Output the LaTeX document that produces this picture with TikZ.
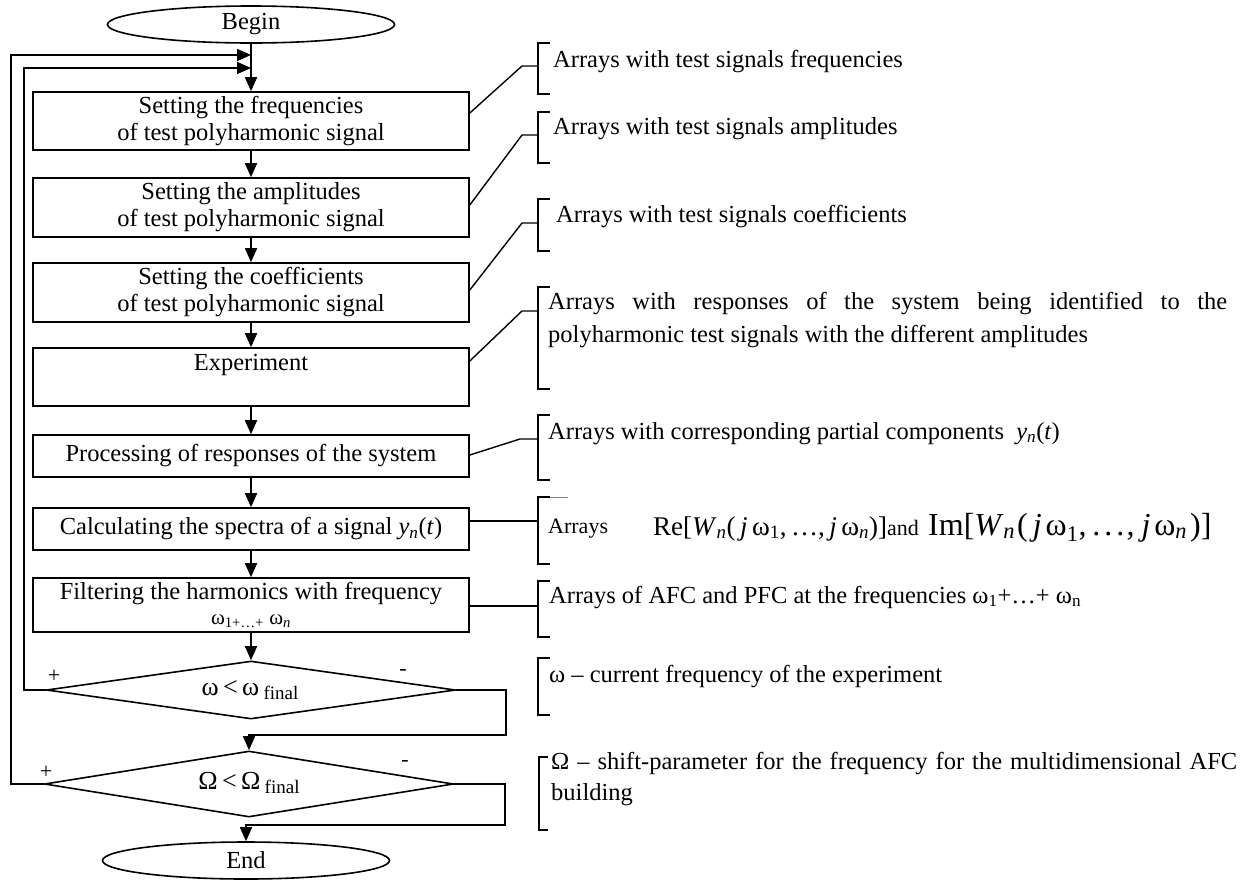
\documentclass[tikz,border=0pt]{standalone}
\usepackage{fontspec}
\setmainfont{Liberation Serif}
\usetikzlibrary{shapes.geometric,arrows.meta,calc}
\newcommand\myfz{\fontsize{24.5}{27}\selectfont}
\newcommand\mysm{\fontsize{22}{24}\selectfont}
\newcommand\myfin{\raisebox{-4pt}{\fontsize{19}{20}\selectfont final}}
\begin{document}
\begin{tikzpicture}[x=1pt,y=-1pt]
\tikzset{
 fl/.style={draw, line width=1.6pt, inner sep=0pt, font=\myfz},
 box/.style={fl, rectangle, minimum width=436pt, align=center},
 term/.style={fl, ellipse, minimum width=287pt, minimum height=37pt},
 dec/.style={fl, diamond, aspect=7, minimum width=409pt},
 txt/.style={inner sep=0pt, font=\myfz},
 note/.style={inner sep=0pt, font=\myfz, anchor=base west},
 arr/.style={line width=1.6pt, -{Triangle[length=14pt,width=12pt]}},
 brk/.style={line width=1.4pt},
}
\useasboundingbox (0,0) rectangle (1250,879);
% flow
\node[term] (beg) at (251,24.5) {Begin};
\node[box, minimum height=58pt] (b1) at (251,121) {Setting the frequencies\\of test polyharmonic signal};
\node[box, minimum height=59pt] (b2) at (251,207.5) {Setting the amplitudes\\of test polyharmonic signal};
\node[box, minimum height=59pt] (b3) at (251,292.5) {Setting the coefficients\\of test polyharmonic signal};
\node[box, minimum height=58pt] (b4) at (251,377) {};
\node[txt] (t4) at (251,365) {Experiment};
\node[box, minimum height=42pt] (b5) at (251,456) {Processing of responses of the system};
\node[box, minimum height=42pt] (b6) at (251,529) {Calculating the spectra of a signal \textit{y}\textsubscript{\textit{n}}(\textit{t})};
\node[box, minimum height=54pt] (b7) at (251,605) {};
\node[txt] (t7a) at (251,594) {Filtering the harmonics with frequency};
\node[txt, font=\fontsize{21}{23}\selectfont] (t7b) at (251,621) {ω\textsubscript{1+…+} ω\textsubscript{\itshape n}};
\node[dec, minimum height=58pt] (d1) at (251,690) {};
\node[txt, font=\fontsize{26}{28}\selectfont] (t8) at (250,690) {ω\,<\,ω\,\myfin};
\node[dec, minimum height=66pt] (d2) at (249,784) {};
\node[txt, font=\fontsize{26}{28}\selectfont] (t9) at (249,783) {Ω\,<\,Ω\,\myfin};
\node[term] (en) at (246,860.5) {End};
\node[txt, font=\mysm] (p1) at (54,676) {+};
\node[txt, font=\mysm] (m1) at (403,672) {-};
\node[txt, font=\mysm] (p2) at (46,772) {+};
\node[txt, font=\mysm] (m2) at (405,763) {-};
% connectors
\coordinate (j1) at (251,55);
\coordinate (j2) at (251,68);
\draw[arr] (beg.south) -- (b1.north);
\draw[arr] (b1.south) -- (b2.north);
\draw[arr] (b2.south) -- (b3.north);
\draw[arr] (b3.south) -- (b4.north);
\draw[arr] (b4.south) -- (b5.north);
\draw[arr] (b5.south) -- (b6.north);
\draw[arr] (b6.south) -- (b7.north);
\draw[arr] (b7.south) -- (d1.north);
\coordinate (r1) at (506,735);
\draw[arr] (d1.east) -| (r1) -| (d2.north);
\coordinate (r2) at (505,825);
\draw[arr] (d2.east) -| (r2) -| (en.north);
\coordinate (l1) at (24,690);
\draw[arr] (d1.west) -- (l1) |- (j2);
\coordinate (l2) at (10.7,784);
\draw[arr] (d2.west) -- (l2) |- (j1);
% brackets
\draw[brk] (550,43) -- (538,43) -- (538,94) -- (550,94);
\draw[brk] (550,112) -- (538,112) -- (538,163) -- (550,163);
\draw[brk] (550,199) -- (538,199) -- (538,251) -- (550,251);
\draw[brk] (550,287) -- (538,287) -- (538,389) -- (550,389);
\draw[brk] (550,415) -- (538,415) -- (538,480) -- (550,480);
\draw[line width=0.6pt, gray] (538,497) -- (568,497);
\draw[brk] (550,497) -- (538,497) -- (538,564) -- (550,564);
\draw[brk] (550,581) -- (538,581) -- (538,637) -- (550,637);
\draw[brk] (550,658) -- (538,658) -- (538,715) -- (550,715);
\draw[brk] (548,757) -- (539,757) -- (539,830) -- (548,830);
\coordinate (k1) at (538,66);
\coordinate (k2) at (538,135);
\coordinate (k3) at (538,223);
\coordinate (k4) at (538,311);
\coordinate (k5) at (538,439);
\coordinate (k6) at (538,521);
\coordinate (k7) at (538,606);
\draw[brk] ([yshift=8pt]b1.east) -- (522,66) -- (k1);
\draw[brk] ([yshift=2.5pt]b2.east) -- (522,135) -- (k2);
\draw[brk] ([yshift=2.5pt]b3.east) -- (522,223) -- (k3);
\draw[brk] ([yshift=16pt]b4.east) -- (522,311) -- (k4);
\draw[brk] ([yshift=1pt]b5.east) -- (520,439) -- (k5);
\draw[brk] ([yshift=8pt]b6.east) -- (k6);
\draw[brk] ([yshift=-1pt]b7.east) -- (k7);
% notes
\node[note] (n1) at (553,67) {Arrays with test signals frequencies};
\node[note] (n2) at (553,134) {Arrays with test signals amplitudes};
\node[note] (n3) at (556,222) {Arrays with test signals coefficients};
\node[note, text width=679pt, align=justify, font=\fontsize{24.5}{33}\selectfont] (n4) at (548,309) {Arrays with responses of the system being identified to the \mbox{polyharmonic} test signals with the different amplitudes};
\node[note] (n5) at (548,439) {Arrays with corresponding partial components\ \ \textit{y}\textsubscript{\textit{n}}(\textit{t})};
\node[note, font=\fontsize{22}{24}\selectfont] (n6) at (548,533) {Arrays};
\node[note, font=\fontsize{27}{30}\selectfont] (f1) at (653,535) {Re[\textit{W}\textsubscript{\textit{n}}(\,\textit{j}\,ω\textsubscript{1},\,…,\,\textit{j}\,ω\textsubscript{\textit{n}})]{\fontsize{22}{24}\selectfont and}};
\node[note, font=\fontsize{32}{34}\selectfont] (f2) at (928,535) {Im[\textit{W}\textsubscript{\textit{n}}\hspace{2pt}(\hspace{5pt}\textit{j}\hspace{4pt}ω\textsubscript{1},\hspace{6pt}.\hspace{4pt}.\hspace{4pt}.\hspace{2pt},\hspace{7pt}\textit{j}\hspace{4pt}ω\textsubscript{\textit{n}}\hspace{3pt})]};
\node[note] (n7) at (549,603) {Arrays of AFC and PFC at the frequencies ω\textsubscript{1}+…+ ω\textsubscript{n}};
\node[note] (n8) at (549,682) {ω – current frequency of the experiment};
\node[note, text width=686pt, align=justify, font=\fontsize{24.5}{31}\selectfont] (n9) at (551,769) {Ω – shift-parameter for the frequency for the multidimensional AFC \mbox{building}};
\end{tikzpicture}
\end{document}
